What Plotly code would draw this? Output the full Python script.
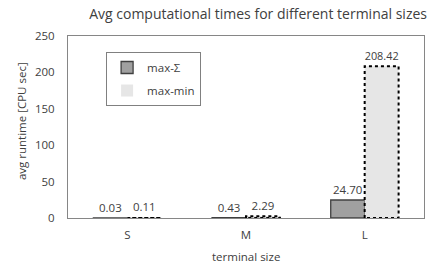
import plotly.graph_objects as go

categories = ["S", "M", "L"]
max_sigma = [0.03, 0.43, 24.70]
max_min = [0.11, 2.29, 208.42]
y_ticks = [0, 50, 100, 150, 200, 250]

FONT = "Open Sans"
TXT = "#404040"
bar_w = 0.286
x_idx = list(range(len(categories)))

fig = go.Figure()
fig.add_bar(
    x=x_idx, y=max_sigma, width=bar_w, offset=-bar_w, name="max-Σ",
    marker=dict(color="#a0a0a0", line=dict(color="#404040", width=1.3)),
    text=[f"{v:.2f}" for v in max_sigma], textposition="outside",
    textfont=dict(size=11.5, color=TXT, family=FONT), cliponaxis=False,
    legendgroup="a",
)
fig.add_bar(
    x=x_idx, y=max_min, width=bar_w, offset=0, name="max-min",
    marker=dict(color="#e6e6e6", line=dict(color="rgba(0,0,0,0)", width=0)),
    text=[f"{v:.2f}" for v in max_min], textposition="outside",
    textfont=dict(size=11.5, color=TXT, family=FONT), cliponaxis=False,
    legendgroup="b",
)
# dotted outline of max-min bars, derived from data
xs, ys = [], []
for i, v in zip(x_idx, max_min):
    xs += [i, i, i + bar_w, i + bar_w, i, None]
    ys += [0, v, v, 0, 0, None]
fig.add_scatter(x=xs, y=ys, mode="lines", line=dict(color="black", width=2, dash="dot"),
                showlegend=False, hoverinfo="skip", cliponaxis=False)

fig.update_layout(
    width=432, height=266,
    margin=dict(l=68, r=8, t=36, b=48, autoexpand=False),
    paper_bgcolor="white", plot_bgcolor="white",
    barmode="overlay",
    font=dict(family=FONT, size=11.5, color=TXT),
    title=dict(text="Avg computational times for different terminal sizes",
               x=0.534, xref="paper", xanchor="center", y=0.948, yanchor="middle",
               font=dict(size=14, color=TXT, family=FONT)),
    legend=dict(x=0.107, y=0.912, xanchor="left", yanchor="top",
                bordercolor="#808080", borderwidth=1, bgcolor="white",
                itemwidth=30, tracegroupgap=4, font=dict(size=11.5, color=TXT)),
    xaxis=dict(tickvals=x_idx, ticktext=categories, range=[-0.5, 2.5],
               showline=True, linecolor="#868686", mirror=True, ticks="",
               showgrid=False, zeroline=False, ticklabelstandoff=6, automargin=False),
    yaxis=dict(range=[0, 250], tickvals=y_ticks, showline=True, linecolor="#868686",
               mirror=True, ticks="", showgrid=False, zeroline=False,
               ticklabelstandoff=10, automargin=False),
    annotations=[
        dict(text="terminal size", xref="paper", yref="paper", x=0.5, y=-0.209,
             xanchor="center", yanchor="middle", showarrow=False,
             font=dict(size=11.5, color=TXT, family=FONT)),
        dict(text="avg runtime [CPU sec]", xref="paper", yref="paper", x=-0.129, y=0.533,
             xanchor="center", yanchor="middle", textangle=-90, showarrow=False,
             font=dict(size=11.5, color=TXT, family=FONT)),
    ],
)

fig.write_html("out.html", config={"displayModeBar": False},
               post_script="document.body.style.margin='0';document.body.style.padding='0';")
